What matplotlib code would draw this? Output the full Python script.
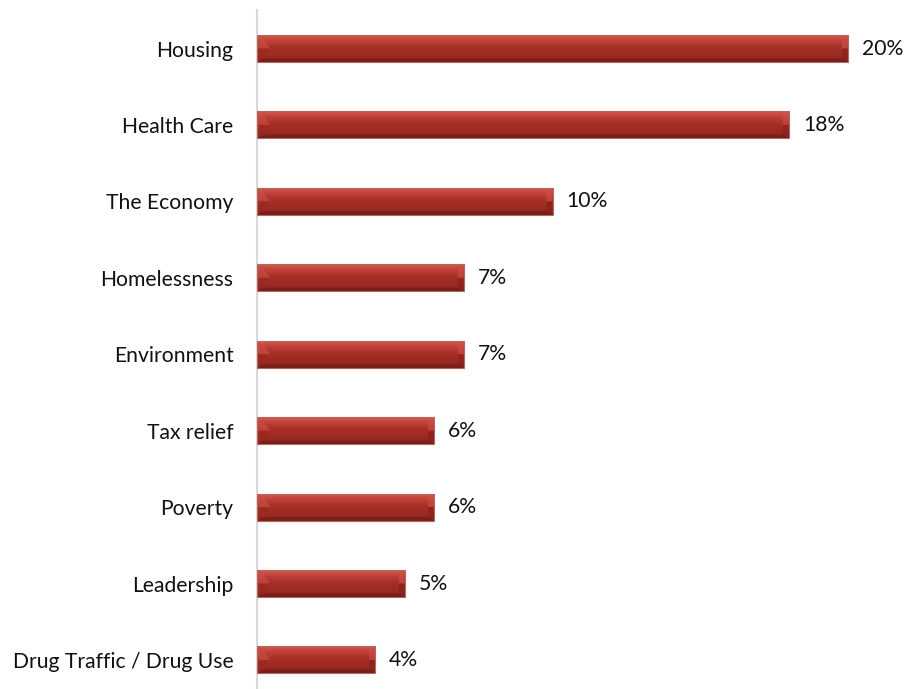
import numpy as np
import matplotlib
matplotlib.use("Agg")
import matplotlib.pyplot as plt
from matplotlib.patches import Polygon, Rectangle
from matplotlib.colors import LinearSegmentedColormap

categories = ["Housing", "Health Care", "The Economy", "Homelessness",
              "Environment", "Tax relief", "Poverty", "Leadership",
              "Drug Traffic / Drug Use"]
values = [20, 18, 10, 7, 7, 6, 6, 5, 4]
value_labels = ["20%", "18%", "10%", "7%", "7%", "6%", "6%", "5%", "4%"]

W, H, DPI = 906, 689, 100
fig = plt.figure(figsize=(W / DPI, H / DPI), dpi=DPI)
fig.patch.set_facecolor("white")

ax_left = 257 / W
ax = fig.add_axes([ax_left, 0, 1 - ax_left, 1 - 10 / H])
xmax = 20 * (W - 257) / (848 - 257)
ax.set_xlim(0, xmax)
ax.set_ylim(8.38, -0.504)

for s in ["top", "right", "bottom"]:
    ax.spines[s].set_visible(False)
ax.spines["left"].set_color("#d9d9d9")
ax.spines["left"].set_linewidth(1.5)
ax.set_xticks([])
ax.set_yticks(range(len(categories)))
ax.set_yticklabels(categories, fontsize=15.2, fontfamily="Lato", color="#111111")
ax.tick_params(axis="y", length=0, pad=17)

bar_h = 0.353
# pixel-to-data scale factors for the bevel geometry
px_x = xmax / (W - 257)
px_y = (8.38 + 0.504) / (H - 10)

grad = LinearSegmentedColormap.from_list(
    "bar", [(0.0, "#d65c52"), (0.15, "#c4463c"), (0.45, "#a82f27"),
            (0.8, "#9a2a22"), (1.0, "#7a221b")])
g = np.linspace(0, 1, 64).reshape(-1, 1)

for i, v in enumerate(values):
    top = i - bar_h / 2
    bot = i + bar_h / 2
    ax.imshow(g, cmap=grad, aspect="auto", extent=(0, v, bot, top),
              interpolation="bilinear", zorder=2)
    bx = 6 * px_x
    by = 3.5 * px_y
    # bottom shadow strip
    ax.add_patch(Polygon([(0, bot), (v, bot), (v - bx, bot - by), (bx, bot - by)],
                         closed=True, facecolor="#6a1914", edgecolor="none", alpha=0.45, zorder=3))
    # left end: light upper facet, darker lower facet
    ax.add_patch(Polygon([(0, top), (bx, top + by), (bx * 2.2, i), (0, i)],
                         closed=True, facecolor="#cc5046", edgecolor="none", alpha=0.6, zorder=3))
    ax.add_patch(Polygon([(0, i), (bx * 2.2, i), (bx, bot - by), (0, bot)],
                         closed=True, facecolor="#9a2820", edgecolor="none", alpha=0.6, zorder=3))
    # right end: light upper facet, darker lower facet
    ax.add_patch(Polygon([(v, top), (v - bx, top + by), (v - bx, i), (v, i)],
                         closed=True, facecolor="#cc5046", edgecolor="none", alpha=0.6, zorder=3))
    ax.add_patch(Polygon([(v, i), (v - bx, i), (v - bx, bot - by), (v, bot)],
                         closed=True, facecolor="#86221b", edgecolor="none", alpha=0.7, zorder=3))
    ax.add_patch(Rectangle((0, top), v, bar_h, facecolor="none",
                           edgecolor="#b46660", linewidth=0.8, zorder=4))
    ax.text(v + 14 * px_x, i, value_labels[i], va="center", ha="left",
            fontsize=15.2, fontfamily="Lato", color="#111111", zorder=5)

fig.savefig("out.png", dpi=DPI, facecolor="white")
